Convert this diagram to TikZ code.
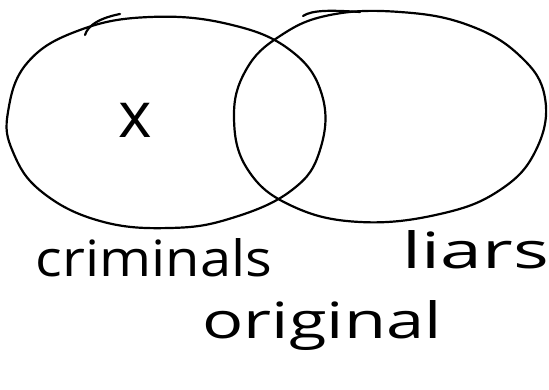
\documentclass[tikz,border=0pt]{standalone}
\usepackage{fontspec}
\setmainfont{Open Sans}
\begin{document}
\begin{tikzpicture}[x=1pt,y=-1pt,
  stroke/.style={line width=2.2pt, line cap=round, line join=round},
  lbl/.style={inner sep=0pt, font=\fontsize{50}{50}\selectfont}]
\useasboundingbox (0,0) rectangle (549,390);
% left set
\draw[stroke] plot[smooth cycle, tension=0.7] coordinates {(8,112) (28,62) (80,30) (150,17) (228,24) (290,50) (322,95) (320,150) (292,190) (232,218) (170,228) (100,221) (42,192) (13,152)};
\draw[stroke] (85,35) .. controls (88,25) and (100,18) .. (120,14);
% right set
\draw[stroke] plot[smooth cycle, tension=0.7] coordinates {(234,118) (246,70) (280,36) (330,15) (400,12) (468,25) (520,56) (545,98) (536,150) (500,190) (440,214) (360,222) (292,206) (248,170)};
\draw[stroke] (303,16) .. controls (312,10) and (330,10) .. (360,12);
% labels
\node[lbl, xscale=1.12] (crim) at (154,258) {criminals};
\node[lbl, xscale=1.5] (liars) at (476,250) {liars};
\node[lbl, xscale=1.37] (orig) at (322,326) {original};
\node[lbl, font=\fontsize{64}{64}\selectfont] (x) at (135,120) {x};
\end{tikzpicture}
\end{document}
